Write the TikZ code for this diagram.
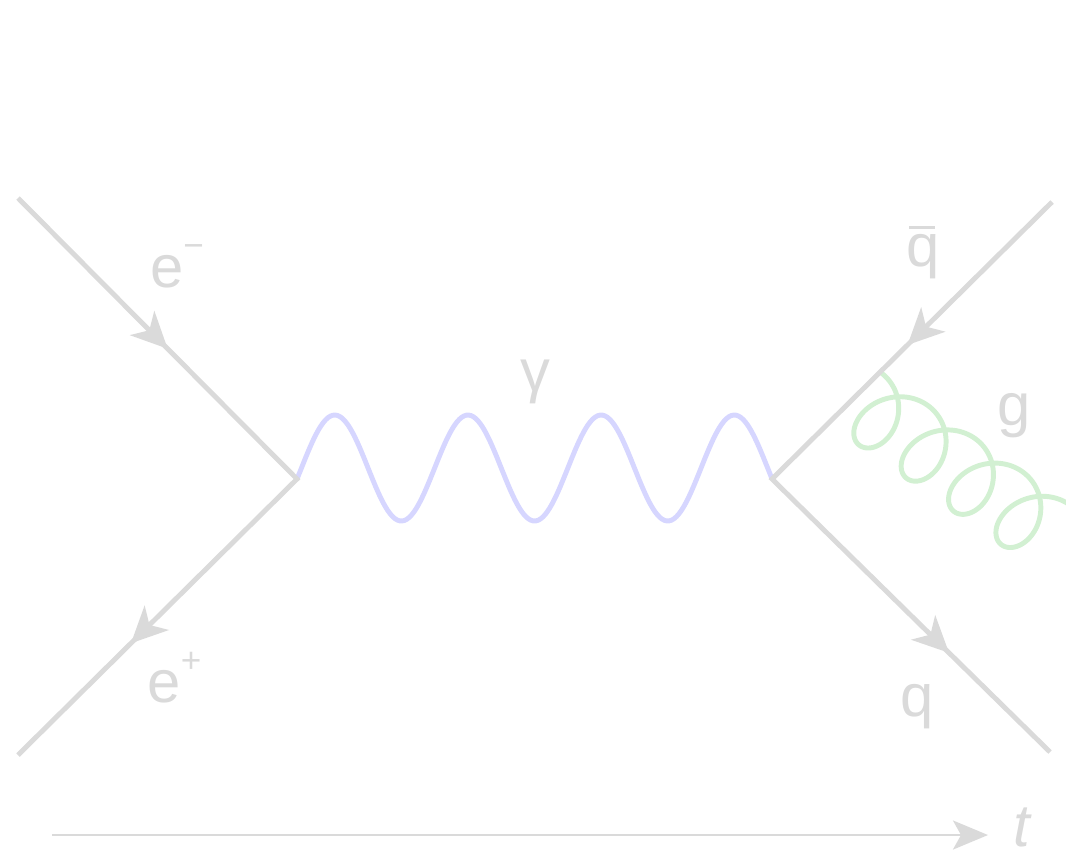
\documentclass[tikz,border=0pt]{standalone}
\usepackage{fontspec}
\setmainfont{Liberation Sans}
\usepackage{tikz}
\usetikzlibrary{arrows.meta, decorations.markings, calc}
\definecolor{lineGray}{RGB}{218,218,218}
\definecolor{labelGray}{RGB}{218,218,218}
\definecolor{photonBlue}{RGB}{214,214,255}
\definecolor{gluonGreen}{RGB}{210,240,210}
\tikzset{
  fermion/.style 2 args={draw=lineGray, line width=1.4pt, postaction={decorate},
    decoration={markings,
      mark=at position #1 with {\arrow{Stealth[length=0.36cm, width=0.34cm, inset=0.1cm]}},
      mark=at position #2 with {\arrow{Stealth[length=0.36cm, width=0.34cm, inset=0.1cm]}}}},
  photon/.style={draw=photonBlue, line width=1.4pt},
  gluon/.style={draw=gluonGreen, line width=1.4pt},
  timeaxis/.style={draw=lineGray, line width=0.8pt, -{Stealth[length=0.35cm, width=0.29cm, inset=0.08cm]}},
  lab/.style={text=labelGray, font=\fontsize{17}{20}\selectfont, inner sep=0pt, anchor=base}
}

\begin{document}
\begin{tikzpicture}
\useasboundingbox (0,0) rectangle (10.66,8.53);
\clip (0,0) rectangle (10.66,8.53);
% Vertices and external points
\coordinate (L) at (2.97,3.74);
\coordinate (R) at (7.72,3.74);
\coordinate (em) at (0.18,6.55);
\coordinate (ep) at (0.18,0.98);
\coordinate (qb) at (10.52,6.51);
\coordinate (qq) at (10.50,1.01);
\coordinate (gs) at ($(R)!0.386!(qb)$);
% Time axis ends
\coordinate (t0) at (0.52,0.18);
\coordinate (t1) at (9.88,0.18);
% Photon line
\begin{scope}[shift={(L)}]
  \draw[photon] plot[domain=0:4.75, samples=200, smooth] (\x, {0.11+0.53*sin(-12+\x*360/1.332)});
\end{scope}
% Gluon line (leaves the picture on the right)
\begin{scope}[shift={(gs)}, xshift=-0.209cm, yshift=0.081cm]
  \draw[gluon] plot[domain=0.56:26.8, samples=600, smooth, variable=\t]
    ({0.0754*\t+0.33*sin(\t r)+0.054*(cos(\t r)-1)}, {-0.0528*\t+0.335*(cos(\t r)-1)});
\end{scope}
% Fermion lines
\draw[fermion={0.27}{0.80}] (em) -- (L) -- (ep);
\draw[fermion={0.26}{0.82}] (qb) -- (R) -- (qq);
% Labels
\node[lab] (elab) at (1.77,5.66) {e\raisebox{0.5em}{\fontsize{10}{10}\selectfont −}};
\node[lab] (plab) at (1.745,1.51) {e\raisebox{0.5em}{\fontsize{10}{10}\selectfont +}};
\node[lab] (qblab) at (9.23,5.865) {\makebox[0pt][l]{\hspace{0.05em}\rule[0.62em]{0.43em}{0.05em}}q};
\node[lab] (glab) at (10.14,4.275) {g};
\node[lab] (qlab) at (9.17,1.37) {q};
\node[lab] (gamlab) at (5.35,4.62) {γ};
% Time axis
\draw[timeaxis] (t0) -- (t1);
\node[lab] (tlab) at (10.225,0.07) {\textit{t}};
\end{tikzpicture}
\end{document}
